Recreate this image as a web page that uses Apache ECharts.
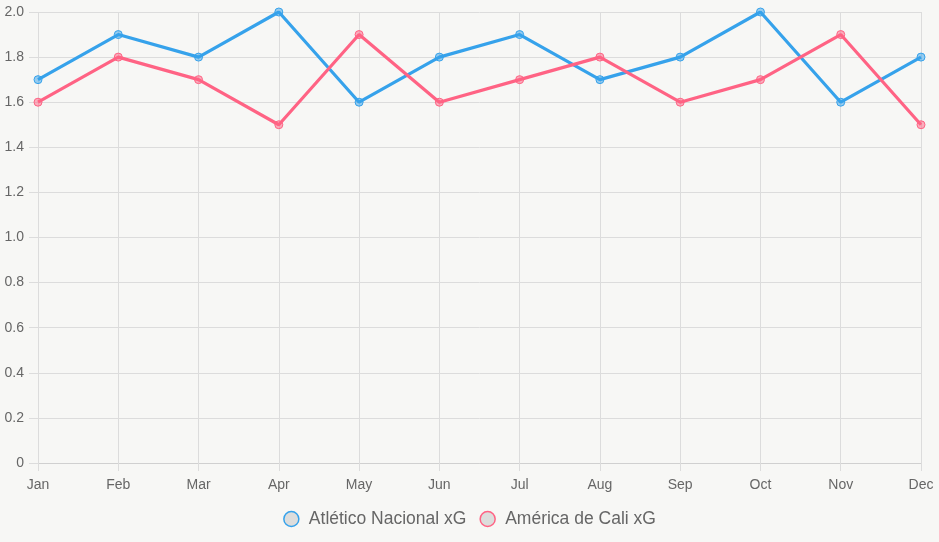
<!DOCTYPE html>
<html>
<head>
<meta charset="utf-8">
<script src="https://cdn.jsdelivr.net/npm/echarts@6/dist/echarts.min.js"></script>
<style>
  html, body { margin: 0; padding: 0; background: #f7f7f5; }
  #chart { width: 939px; height: 542px; }
</style>
</head>
<body>
<div id="chart"></div>
<script>
// 月份
var months = ['Jan', 'Feb', 'Mar', 'Apr', 'May', 'Jun', 'Jul', 'Aug', 'Sep', 'Oct', 'Nov', 'Dec']
// 两队 xG
var nacionalXG = [1.7, 1.9, 1.8, 2.0, 1.6, 1.8, 1.9, 1.7, 1.8, 2.0, 1.6, 1.8]
var caliXG = [1.6, 1.8, 1.7, 1.5, 1.9, 1.6, 1.7, 1.8, 1.6, 1.7, 1.9, 1.5]
var seriesNames = ['Atlético Nacional xG', 'América de Cali xG']

var chart = echarts.init(document.getElementById('chart'))

function lineSeries(name, data, color, fill) {
  return {
    name: name,
    type: 'line',
    data: data,
    symbol: 'circle',
    symbolSize: 8,
    showSymbol: true,
    lineStyle: { color: color, width: 3.2 },
    itemStyle: { color: fill, borderColor: color, borderWidth: 1 },
    emphasis: { disabled: true },
    z: 2
  }
}

chart.setOption({
  backgroundColor: '#f7f7f5',
  animation: false,
  textStyle: { fontFamily: 'Liberation Sans, Arial, sans-serif' },
  grid: { left: 38, right: 18, top: 12, bottom: 79, containLabel: false },
  legend: {
    top: 505,
    left: 'center',
    itemWidth: 15,
    itemHeight: 15,
    itemGap: 13,
    icon: 'circle',
    textStyle: { color: '#666', fontSize: 17.5, padding: [0, 0, 0, 5] },
    data: [
      { name: seriesNames[0], itemStyle: { color: 'rgba(0,0,0,0.1)', borderColor: '#36a2eb', borderWidth: 1.5 } },
      { name: seriesNames[1], itemStyle: { color: 'rgba(0,0,0,0.1)', borderColor: '#ff6384', borderWidth: 1.5 } }
    ]
  },
  xAxis: {
    type: 'category',
    data: months,
    boundaryGap: false,
    axisLine: { show: true, lineStyle: { color: '#d0d0d0' } },
    axisTick: { show: true, length: 8, lineStyle: { color: '#dcdcdc' }, alignWithLabel: true },
    axisLabel: { color: '#666', fontSize: 14, margin: 15 },
    splitLine: { show: true, lineStyle: { color: '#dcdcdc' } }
  },
  yAxis: {
    type: 'value',
    min: 0,
    max: 2,
    interval: 0.2,
    axisLine: { show: false },
    axisTick: { show: true, length: 9, lineStyle: { color: '#dcdcdc' } },
    axisLabel: {
      color: '#666',
      fontSize: 14,
      margin: 14,
      formatter: function (v) { return v === 0 ? '0' : v.toFixed(1) }
    },
    splitLine: { show: true, lineStyle: { color: '#dcdcdc' } }
  },
  series: [
    lineSeries(seriesNames[0], nacionalXG, '#36a2eb', 'rgba(54,162,235,0.5)'),
    lineSeries(seriesNames[1], caliXG, '#ff6384', 'rgba(255,99,132,0.5)')
  ]
})
</script>
</body>
</html>
